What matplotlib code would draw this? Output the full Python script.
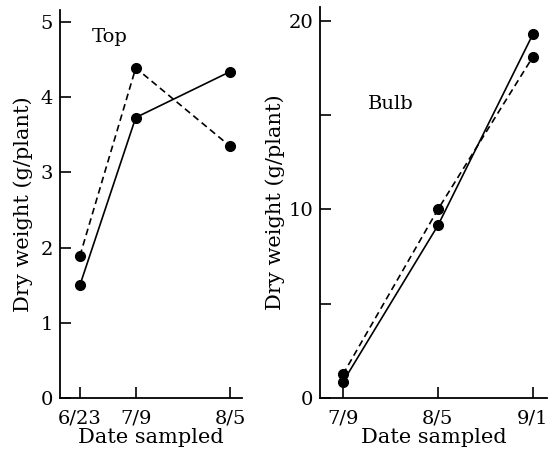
import matplotlib.pyplot as plt
import pandas as pd

plt.rcParams['font.family'] = ['DejaVu Serif']

# Top (left panel)
top_dates = ['6/23', '7/9', '8/5']
top_solid = [1.5, 3.73, 4.34]
top_dashed = [1.89, 4.39, 3.35]

# Bulb (right panel)
bulb_dates = ['7/9', '8/5', '9/1']
bulb_solid = [0.85, 9.15, 19.3]
bulb_dashed = [1.25, 10.0, 18.1]


def to_days(labels):
    d = pd.to_datetime(['1990/' + s for s in labels], format='%Y/%m/%d')
    return [(x - pd.Timestamp('1990-06-01')).days for x in d]


def style(ax, label_x):
    for s in ['top', 'right']:
        ax.spines[s].set_visible(False)
    for s in ['left', 'bottom']:
        ax.spines[s].set_linewidth(1.3)
    ax.tick_params(axis='both', direction='in', width=1.2, labelsize=14, length=8)
    ax.tick_params(axis='y', pad=5)
    ax.tick_params(axis='x', pad=8)
    ax.set_xlabel('Date sampled', fontsize=15, labelpad=1)
    ax.set_ylabel('Dry weight (g/plant)', fontsize=15)
    ax.yaxis.set_label_coords(label_x, 0.5)


fig = plt.figure(figsize=(5.51, 4.49), dpi=100)

ax1 = fig.add_axes([0.1089, 0.1136, 0.330, 0.864])
x1 = to_days(top_dates)
ax1.plot(x1, top_solid, 'k-', lw=1.2, marker='o', ms=7)
ax1.plot(x1, top_dashed, 'k--', lw=1.2, marker='o', ms=7, dashes=(4, 2.5))
ax1.set_xlim(x1[0] - 5.7, x1[-1] + 3.4)
ax1.set_ylim(0, 5.16)
ax1.set_xticks(x1)
ax1.set_xticklabels(top_dates)
ax1.set_yticks([0, 1, 2, 3, 4, 5])
style(ax1, -0.15)
ax1.text(0.175, 0.955, 'Top', transform=ax1.transAxes, fontsize=14, va='top')

ax2 = fig.add_axes([0.5808, 0.1136, 0.412, 0.871])
x2 = to_days(bulb_dates)
ax2.plot(x2, bulb_solid, 'k-', lw=1.2, marker='o', ms=7)
ax2.plot(x2, bulb_dashed, 'k--', lw=1.2, marker='o', ms=7, dashes=(4, 2.5))
ax2.set_xlim(x2[0] - 6.5, x2[-1] + 4)
ax2.set_ylim(0, 20.74)
ax2.set_xticks(x2)
ax2.set_xticklabels(bulb_dates)
ax2.set_yticks([0, 5, 10, 15, 20])
ax2.set_yticklabels(['0', '', '10', '', '20'])
style(ax2, -0.155)
ax2.text(0.21, 0.775, 'Bulb', transform=ax2.transAxes, fontsize=14, va='top')

fig.savefig('out.png', dpi=100)
